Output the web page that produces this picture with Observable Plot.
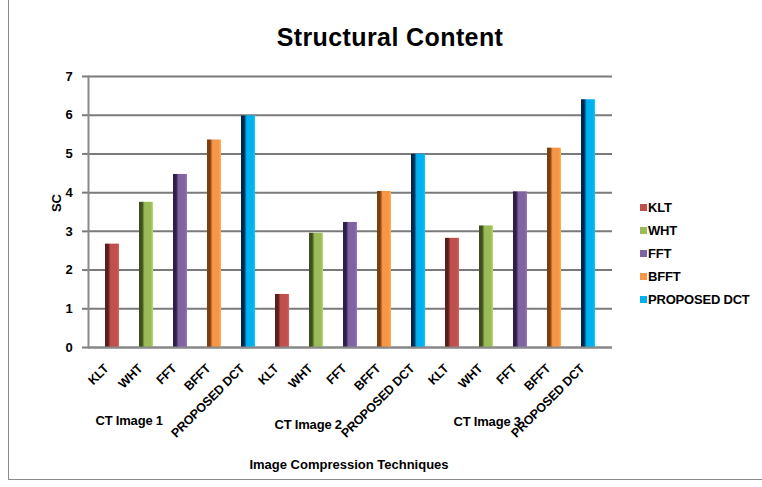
<!DOCTYPE html>
<html>
<head>
<meta charset="utf-8">
<script src="https://cdn.jsdelivr.net/npm/d3@7"></script>
<script src="https://cdn.jsdelivr.net/npm/@observablehq/plot@0.6"></script>
<style>
  html, body { margin: 0; padding: 0; background: #fff; }
  #wrap { position: relative; width: 762px; height: 487px; overflow: hidden; background: #fff;
          font-family: "Liberation Sans", Arial, sans-serif; font-weight: bold; color: #000; }
  #frame { position: absolute; left: 8px; top: -2px; width: 754px; height: 481px;
           border-left: 1.5px solid #8a8a8a; border-bottom: 1.5px solid #8a8a8a; }
  #title { position: absolute; left: 0; width: 780px; top: 23px; text-align: center; font-size: 25px; letter-spacing: 0.4px; }
  #plot { position: absolute; left: 0; top: 0; }
  #legend { position: absolute; left: 640px; top: 196px; font-size: 13px; letter-spacing: -0.2px; }
  #legend .item { height: 23px; display: flex; align-items: center; }
  #legend .sw { width: 7px; height: 7px; margin-right: 1px; }
  #xtitle { position: absolute; left: 0; width: 698px; top: 457px; text-align: center; font-size: 13px; }
</style>
</head>
<body>
<div id="wrap">
  <div id="frame"></div>
  <div id="plot"></div>
  <div id="title">Structural Content</div>
  <div id="legend"></div>
  <div id="xtitle">Image Compression Techniques</div>
</div>
<script>
const groups = ["CT Image 1", "CT Image 2", "CT Image 3"];
const techniques = ["KLT", "WHT", "FFT", "BFFT", "PROPOSED DCT"];
const colors = ["#C0504D", "#9BBB59", "#8064A2", "#F79646", "#00B0F0"];
const darkColors = ["#5a1f1d", "#3d4f1c", "#2e1f4a", "#7a3e0f", "#00264d"];
const valuesKLT = [2.67, 1.37, 2.82];
const valuesWHT = [3.75, 2.95, 3.14];
const valuesFFT = [4.47, 3.23, 4.02];
const valuesBFFT = [5.36, 4.03, 5.15];
const valuesDCT = [5.98, 4.99, 6.40];
const seriesValues = [valuesKLT, valuesWHT, valuesFFT, valuesBFFT, valuesDCT];
const yTicks = [0, 1, 2, 3, 4, 5, 6, 7];

const data = [];
groups.forEach((g, gi) => {
  techniques.forEach((t, ti) => {
    data.push({group: g, tech: t, ti, key: g + "|" + t, value: seriesValues[ti][gi]});
  });
});
const keys = data.map(d => d.key);
const groupLabel = i => [{group: groups[i], key: groups[i] + "|KLT"}];

const chart = Plot.plot({
  width: 762,
  height: 487,
  marginLeft: 88,
  marginRight: 150,
  marginTop: 76,
  marginBottom: 140,
  style: {fontFamily: "'Liberation Sans', Arial, sans-serif", fontWeight: "bold", background: "transparent", overflow: "visible"},
  x: {domain: keys, paddingInner: 0.6, paddingOuter: 0.3, align: 0.5},
  y: {domain: [0, 7]},
  color: {type: "identity"},
  marks: [
    Plot.gridY(yTicks, {stroke: "#7a7a7a", strokeOpacity: 1, strokeWidth: 2}),
    Plot.axisY(yTicks, {tickSize: 6, tickPadding: 10, fontSize: 13, stroke: "#7a7a7a", strokeWidth: 2, label: null, tickFormat: d => d}),
    Plot.frame({anchor: "left", stroke: "#8a8a8a", strokeWidth: 2}),
    Plot.barY(data, {x: "key", y: "value", fill: d => `url(#grad-${d.ti})`}),
    Plot.ruleY([0], {stroke: "#8a8a8a", strokeWidth: 2}),
    Plot.axisX({tickSize: 0, tickPadding: 9, tickRotate: -45, fontSize: 12.5, label: null, dx: -6, dy: 10,
                tickFormat: k => k.split("|")[1]}),
    Plot.text(groupLabel(0), {x: "key", text: "group", frameAnchor: "bottom", textAnchor: "start",
                dx: -17, dy: 77, fontSize: 13}),
    Plot.text(groupLabel(1), {x: "key", text: "group", frameAnchor: "bottom", textAnchor: "start",
                dx: -8, dy: 81, fontSize: 13}),
    Plot.text(groupLabel(2), {x: "key", text: "group", frameAnchor: "bottom", textAnchor: "start",
                dx: 1, dy: 78, fontSize: 13}),
    Plot.text(["SC"], {frameAnchor: "left", dx: -32, dy: 0, rotate: -90, fontSize: 13, text: d => d})
  ]
});

// gradients for the 3D-looking bars
const svg = d3.select(chart);
const defs = svg.insert("defs", ":first-child");
colors.forEach((c, i) => {
  const g = defs.append("linearGradient").attr("id", `grad-${i}`).attr("x1", 0).attr("x2", 1).attr("y1", 0).attr("y2", 0);
  g.append("stop").attr("offset", "0%").attr("stop-color", darkColors[i]);
  g.append("stop").attr("offset", "22%").attr("stop-color", darkColors[i]);
  g.append("stop").attr("offset", "40%").attr("stop-color", c);
  g.append("stop").attr("offset", "85%").attr("stop-color", c);
  g.append("stop").attr("offset", "100%").attr("stop-color", d3.color(c).brighter(0.5).formatHex());
});
svg.selectAll("text").style("letter-spacing", "-0.2px");
document.getElementById("plot").appendChild(chart);

const legend = d3.select("#legend");
techniques.forEach((t, i) => {
  const it = legend.append("div").attr("class", "item");
  it.append("div").attr("class", "sw").style("background", colors[i]);
  it.append("span").text(t);
});
</script>
</body>
</html>
